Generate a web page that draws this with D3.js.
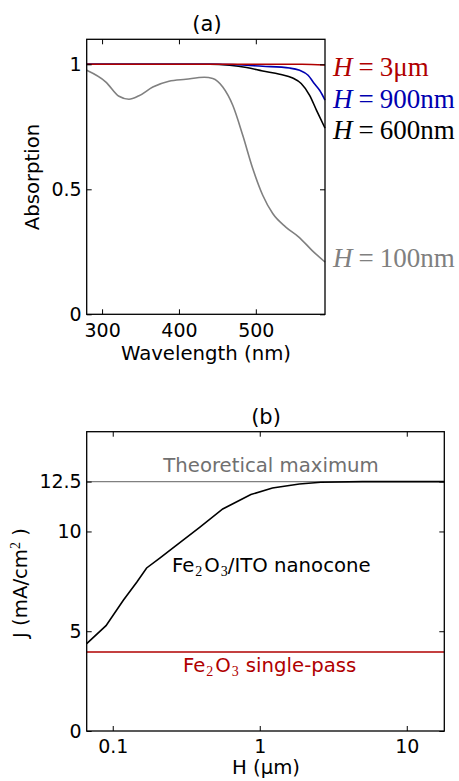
<!DOCTYPE html>
<html>
<head>
<meta charset="utf-8">
<script src="https://cdn.jsdelivr.net/npm/d3@7"></script>
<style>
  body { margin: 0; background: #fff; }
  text { font-family: "DejaVu Sans", sans-serif; }
</style>
</head>
<body>
<div id="chart"></div>
<script>
var width = 459;
var height = 781;

// (a) absorption spectra
var wl100 = [280, 305, 322, 335, 348, 366, 387, 409, 433, 444, 457, 470, 483, 496, 509, 522, 539, 556, 573, 590];
var abs100 = [0.976, 0.929, 0.872, 0.86, 0.874, 0.909, 0.932, 0.94, 0.948, 0.943, 0.909, 0.836, 0.716, 0.583, 0.476, 0.403, 0.349, 0.309, 0.256, 0.209];
var wl600 = [280, 440, 466, 488, 509, 531, 548, 559, 570, 579, 590];
var abs600 = [1, 1, 0.996, 0.987, 0.973, 0.96, 0.945, 0.923, 0.876, 0.816, 0.745];
var wl900 = [280, 450, 509, 544, 557, 568, 576, 583, 590];
var abs900 = [1, 1, 0.992, 0.985, 0.976, 0.956, 0.923, 0.896, 0.857];
var wl3um = [280, 560, 590];
var abs3um = [1, 1, 0.997];

var seriesNames = ["H=100nm", "H=600nm", "H=900nm", "H=3μm"];
var seriesColors = ["#808080", "#000000", "#0000b0", "#b00000"];
var labelValues = [0.189, 0.701, 0.825, 0.953];   // where the text labels sit (data units)

var xTicksA = [300, 400, 500];
var yTicksA = [0, 0.5, 1];

// (b) photocurrent vs height
var heightUm = [0.0665, 0.09, 0.118, 0.146, 0.17, 0.21, 0.265, 0.39, 0.56, 0.87, 1.22, 1.86, 2.6, 5, 18];
var currentJ = [4.38, 5.28, 6.55, 7.47, 8.17, 8.68, 9.25, 10.2, 11.13, 11.85, 12.18, 12.38, 12.47, 12.5, 12.5];
var theoreticalMax = 12.5;
var singlePass = 3.96;

var xTicksB = [0.1, 1, 10];
var yTicksB = [0, 5, 10, 12.5];

var svg = d3.select('#chart')
	.append('svg')
	.attr('width', width)
	.attr('height', height);

// helper: framed axes with inward ticks on all four sides
function drawFrame(g, x, y, xTicks, yTicks, xFmt, yFmt){
	var x0 = x.range()[0], x1 = x.range()[1];
	var y0 = y.range()[0], y1 = y.range()[1];

	g.append('g')
		.attr('transform', 'translate(0,' + y0 + ')')
		.call(d3.axisBottom(x).tickValues(xTicks).tickFormat(xFmt).tickSizeInner(-5).tickSizeOuter(0).tickPadding(9));
	g.append('g')
		.attr('transform', 'translate(0,' + y1 + ')')
		.call(d3.axisTop(x).tickValues(xTicks).tickFormat('').tickSizeInner(-5).tickSizeOuter(0));
	g.append('g')
		.attr('transform', 'translate(' + x0 + ',0)')
		.call(d3.axisLeft(y).tickValues(yTicks).tickFormat(yFmt).tickSizeInner(-5).tickSizeOuter(0).tickPadding(5));
	g.append('g')
		.attr('transform', 'translate(' + x1 + ',0)')
		.call(d3.axisRight(y).tickValues(yTicks).tickFormat('').tickSizeInner(-5).tickSizeOuter(0));

	g.selectAll('.domain').remove();
	g.selectAll('.tick line').attr('stroke', '#000').attr('stroke-width', 1);
	g.selectAll('.tick text')
		.attr('fill', '#000')
		.style('font-family', '"DejaVu Sans", sans-serif')
		.style('font-size', '19px');

	g.append('rect')
		.attr('x', x0)
		.attr('y', y1)
		.attr('width', x1 - x0)
		.attr('height', y0 - y1)
		.attr('fill', 'none')
		.attr('stroke', '#000')
		.attr('stroke-width', 1.3);
}

// ---------------- panel (a) ----------------
var xA = d3.scaleLinear().domain([280, 590]).range([86.7, 325]);
var yA = d3.scaleLinear().domain([0, 1.1]).range([314.3, 39.3]);

var gA = svg.append('g');

var lineA = d3.line()
	.x(function(d){ return xA(d[0]); })
	.y(function(d){ return yA(d[1]); })
	.curve(d3.curveMonotoneX);

var seriesA = [
	d3.zip(wl100, abs100),
	d3.zip(wl600, abs600),
	d3.zip(wl900, abs900),
	d3.zip(wl3um, abs3um)
];

gA.selectAll('path.curve')
	.data(seriesA)
	.enter()
	.append('path')
	.attr('class', 'curve')
	.attr('d', lineA)
	.attr('fill', 'none')
	.attr('stroke', function(d, i){ return seriesColors[i]; })
	.attr('stroke-width', 1.6);

drawFrame(gA, xA, yA, xTicksA, yTicksA, d3.format('d'), function(d){ return d === 0.5 ? '0.5' : String(d); });

// series labels on the right, math style: italic H, spaced "="
seriesNames.forEach(function(name, i){
	var t = gA.append('text')
		.attr('x', 333)
		.attr('y', yA(labelValues[i]))
		.attr('fill', seriesColors[i])
		.style('font-family', '"Liberation Serif", "DejaVu Serif", serif')
		.style('font-size', '27px');
	t.append('tspan').style('font-style', 'italic').text('H');
	t.append('tspan').attr('dx', 6).text('=');
	t.append('tspan').attr('dx', 6).text(name.slice(2));
});

gA.append('text')
	.attr('x', 207)
	.attr('y', 31)
	.attr('text-anchor', 'middle')
	.style('font-size', '21px')
	.text('(a)');

gA.append('text')
	.attr('x', 206)
	.attr('y', 360)
	.attr('text-anchor', 'middle')
	.style('font-size', '19.7px')
	.text('Wavelength (nm)');

gA.append('text')
	.attr('transform', 'translate(39,177) rotate(-90)')
	.attr('text-anchor', 'middle')
	.style('font-size', '19.7px')
	.text('Absorption');

// ---------------- panel (b) ----------------
var xB = d3.scaleLog().domain([0.0665, 18]).range([86.7, 444.3]);
var yB = d3.scaleLinear().domain([0, 15]).range([731, 431.7]);

var gB = svg.append('g');

gB.append('line')
	.attr('x1', xB.range()[0]).attr('x2', xB.range()[1])
	.attr('y1', yB(theoreticalMax)).attr('y2', yB(theoreticalMax))
	.attr('stroke', '#808080')
	.attr('stroke-width', 1.2);

gB.append('line')
	.attr('x1', xB.range()[0]).attr('x2', xB.range()[1])
	.attr('y1', yB(singlePass)).attr('y2', yB(singlePass))
	.attr('stroke', '#b00000')
	.attr('stroke-width', 1.4);

var lineB = d3.line()
	.x(function(d){ return xB(d[0]); })
	.y(function(d){ return yB(d[1]); });

gB.append('path')
	.datum(d3.zip(heightUm, currentJ))
	.attr('d', lineB)
	.attr('fill', 'none')
	.attr('stroke', '#000')
	.attr('stroke-width', 1.6);

drawFrame(gB, xB, yB, xTicksB, yTicksB, function(d){ return String(d); }, function(d){ return String(d); });

gB.append('text')
	.attr('x', 271)
	.attr('y', 472)
	.attr('text-anchor', 'middle')
	.attr('fill', '#707070')
	.style('font-size', '19.7px')
	.text('Theoretical maximum');

function formula(t, subSize){
	t.append('tspan').text('Fe');
	t.append('tspan').attr('dy', 4).attr('dx', 1).style('font-family', '"Liberation Serif", serif').style('font-size', subSize).text('2');
	t.append('tspan').attr('dy', -4).attr('dx', 2).text('O');
	t.append('tspan').attr('dy', 4).attr('dx', 1).style('font-family', '"Liberation Serif", serif').style('font-size', subSize).text('3');
	return t;
}

var nano = gB.append('text')
	.attr('x', 172)
	.attr('y', 572)
	.attr('fill', '#000')
	.style('font-size', '19.7px');
formula(nano, '14px');
nano.append('tspan').attr('dy', -4).text('/ITO nanocone');

var single = gB.append('text')
	.attr('x', 183)
	.attr('y', 672)
	.attr('fill', '#b00000')
	.style('font-size', '19.7px');
formula(single, '14px');
single.append('tspan').attr('dy', -4).attr('dx', 7).text('single-pass');

gB.append('text')
	.attr('x', 266)
	.attr('y', 424)
	.attr('text-anchor', 'middle')
	.style('font-size', '21px')
	.text('(b)');

gB.append('text')
	.attr('x', 266)
	.attr('y', 774)
	.attr('text-anchor', 'middle')
	.style('font-size', '19.7px')
	.text('H (μm)');

var yl = gB.append('text')
	.attr('transform', 'translate(27,583) rotate(-90)')
	.attr('text-anchor', 'middle')
	.style('font-size', '19.7px');
yl.append('tspan').text('J (mA/cm');
yl.append('tspan').attr('dy', -7).style('font-family', '"Liberation Serif", serif').style('font-size', '14px').text('2');
yl.append('tspan').attr('dy', 7).text(' )');
</script>
</body>
</html>
